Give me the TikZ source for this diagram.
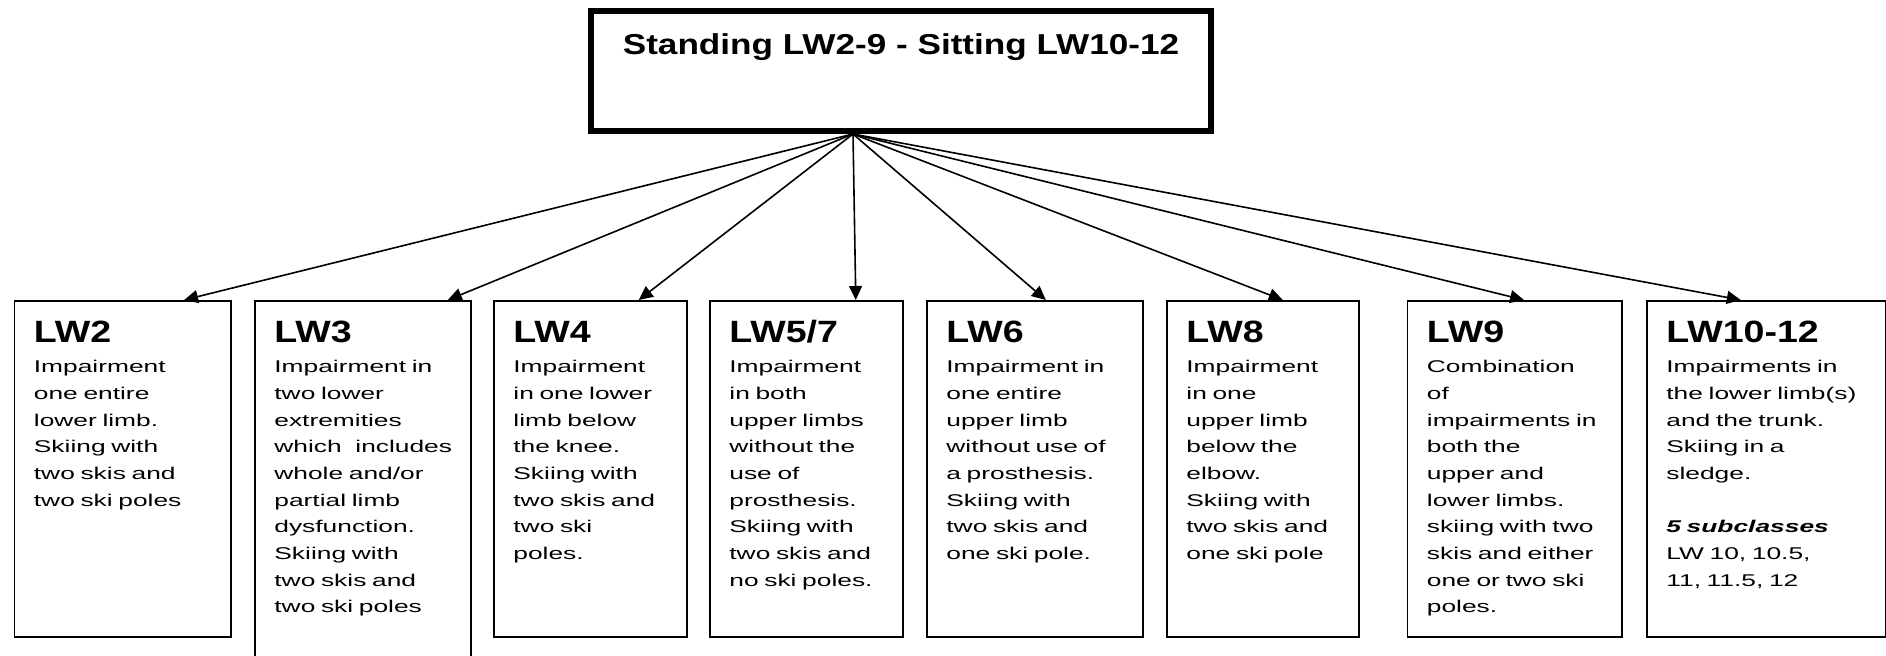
\documentclass[tikz,border=0pt]{standalone}
\usepackage{fontspec}
\usetikzlibrary{arrows.meta}
\newfontfamily\bodyfont[FakeStretch=1.55]{Liberation Sans}
\newfontfamily\headfont[FakeStretch=1.22]{Liberation Sans}
\newcommand{\lwhead}[1]{{\headfont\bfseries\fontsize{15.4}{16}\selectfont #1}\\[1.7pt]}

\begin{document}
\begin{tikzpicture}[x=0.5pt,y=-0.5pt,
   topbox/.style={draw,line width=3pt,inner sep=0pt,minimum width=310pt,minimum height=60pt,
      text height=11pt,text depth=27.7pt,font=\headfont\bfseries\fontsize{14.4}{16}\selectfont},
   classbox/.style={draw,line width=0.8pt,inner sep=0pt,anchor=north west,minimum height=168pt},
   classtext/.style={anchor=base west,inner sep=0pt,text width=120pt,align=left,
      font=\bodyfont\fontsize{8.5}{13.33}\selectfont},
   link/.style={line width=0.8pt,-{Triangle[length=7pt,width=6.5pt]}}]

\useasboundingbox (0,0) rectangle (1886,655);

\node[topbox] (top) at (901,71) {Standing LW2-9 - Sitting LW10-12};
\coordinate (hub) at ([xshift=-24pt]top.south);

\node[classbox,minimum width=108.25pt] (lw2) at (13.5,300) {};
\node[classbox,minimum width=108pt,minimum height=195pt] (lw3) at (254,300) {};
\node[classbox,minimum width=96.5pt] (lw4) at (493,300) {};
\node[classbox,minimum width=96.5pt] (lw57) at (709,300) {};
\node[classbox,minimum width=108pt] (lw6) at (926,300) {};
\node[classbox,minimum width=96pt] (lw8) at (1166,300) {};
\node[classbox,minimum width=107.25pt] (lw9) at (1406.5,300) {};
\node[classbox,minimum width=119.5pt] (lw1012) at (1646,300) {};

\node[classtext] (lw2txt) at ([shift={(10pt,-21.35pt)}]lw2.north west)
   {\lwhead{LW2}Impairment\\one entire\\lower limb.\\Skiing with\\two skis and\\two ski poles};
\node[classtext] (lw3txt) at ([shift={(10pt,-21.35pt)}]lw3.north west)
   {\lwhead{LW3}Impairment in\\two lower\\extremities\\which\hspace{4pt} includes\\whole and/or\\partial limb\\dysfunction.\\Skiing with\\two skis and\\two ski poles};
\node[classtext] (lw4txt) at ([shift={(10pt,-21.35pt)}]lw4.north west)
   {\lwhead{LW4}Impairment\\in one lower\\limb below\\the knee.\\Skiing with\\two skis and\\two ski\\poles.};
\node[classtext] (lw57txt) at ([shift={(10pt,-21.35pt)}]lw57.north west)
   {\lwhead{LW5/7}Impairment\\in both\\upper limbs\\without the\\use of\\prosthesis.\\Skiing with\\two skis and\\no ski poles.};
\node[classtext] (lw6txt) at ([shift={(10pt,-21.35pt)}]lw6.north west)
   {\lwhead{LW6}Impairment in\\one entire\\upper limb\\without use of\\a prosthesis.\\Skiing with\\two skis and\\one ski pole.};
\node[classtext] (lw8txt) at ([shift={(10pt,-21.35pt)}]lw8.north west)
   {\lwhead{LW8}Impairment\\in one\\upper limb\\below the\\elbow.\\Skiing with\\two skis and\\one ski pole};
\node[classtext] (lw9txt) at ([shift={(10pt,-21.35pt)}]lw9.north west)
   {\lwhead{LW9}Combination\\of\\impairments in\\both the\\upper and\\lower limbs.\\skiing with two\\skis and either\\one or two ski\\poles.};
\node[classtext] (lw1012txt) at ([shift={(10pt,-21.35pt)}]lw1012.north west)
   {\lwhead{LW10-12}Impairments in\\the lower limb(s)\\and the trunk.\\Skiing in a\\sledge.\\[13.33pt]{\bfseries\itshape 5 subclasses}\\LW 10, 10.5,\\11, 11.5, 12};

\draw[link] (hub) -- ([xshift=30.75pt]lw2.north);
\draw[link] (hub) -- ([xshift=42.5pt]lw3.north);
\draw[link] (hub) -- ([xshift=24.25pt]lw4.north);
\draw[link] (hub) -- ([xshift=24.75pt]lw57.north);
\draw[link] (hub) -- ([xshift=5.5pt]lw6.north);
\draw[link] (hub) -- ([xshift=10pt]lw8.north);
\draw[link] (hub) -- ([xshift=4.75pt]lw9.north);
\draw[link] (hub) -- ([xshift=-12.75pt]lw1012.north);

\end{tikzpicture}
\end{document}
